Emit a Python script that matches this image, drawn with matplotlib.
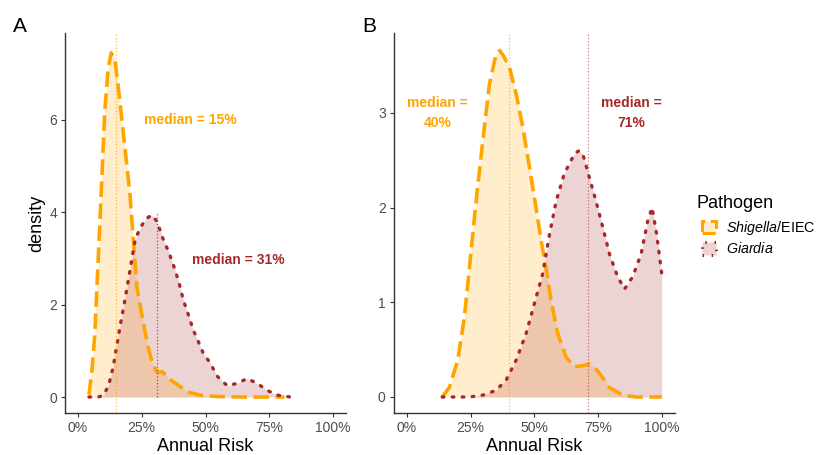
import matplotlib
matplotlib.use("Agg")
import matplotlib.pyplot as plt
from matplotlib.patches import Patch
from matplotlib.ticker import PercentFormatter

plt.rcParams['font.family'] = ['Liberation Sans', 'DejaVu Sans']
plt.rcParams['mathtext.fontset'] = 'custom'
plt.rcParams['mathtext.rm'] = 'Liberation Sans'
plt.rcParams['mathtext.it'] = 'Liberation Sans:italic'

# ---- data (annual risk in %, density) ----
pathogens = ['Shigella/EIEC', 'Giardia']

a_shig_x = [4.3, 5.5, 6.6, 7.9, 9.2, 10.5, 11.8, 13.0, 14.5, 16.4, 18.4, 20.4, 22.0,
            23.1, 24.3, 26.0, 27.5, 29.4, 31.0, 33.3, 35.3, 39.2, 43.0, 47.8, 55, 65, 75, 81]
a_shig_y = [0.05, 0.6, 1.37, 2.96, 4.54, 6.2, 7.1, 7.45, 7.3, 6.42, 5.4, 4.37, 3.18,
            2.38, 2.0, 1.5, 1.08, 0.69, 0.54, 0.54, 0.41, 0.26, 0.11, 0.04, 0.01, 0.0, 0.0, 0.0]

a_giar_x = [4.3, 8, 10, 12, 13.8, 16.4, 18.4, 20.4, 22.4, 24.3, 26.5, 28.9, 31, 33.5,
            35.5, 37.4, 39.5, 41.3, 43.3, 45.2, 47.2, 49.1, 51.8, 54.6, 58.6, 62.5,
            66.4, 70.4, 74.3, 78.3, 83.3]
a_giar_y = [0, 0.0, 0.04, 0.25, 0.65, 1.5, 2.1, 2.75, 3.4, 3.65, 3.85, 3.94, 3.8, 3.4,
            3.15, 2.86, 2.5, 2.1, 1.78, 1.45, 1.2, 0.95, 0.74, 0.45, 0.24, 0.3,
            0.4, 0.29, 0.14, 0.04, 0]

b_shig_x = [13.9, 16.7, 20, 22.6, 24.6, 27.2, 29.8, 32.4, 35, 36.5, 38, 40.3, 42.9,
            45.5, 48.1, 50.7, 52.7, 54.6, 56.6, 59.2, 62.5, 65.8, 69, 71.6, 73.5,
            75.6, 79.5, 84.7, 90, 100]
b_shig_y = [0.0, 0.1, 0.39, 0.84, 1.37, 2.07, 2.7, 3.3, 3.62, 3.66, 3.6, 3.48, 3.2,
            2.85, 2.43, 2.0, 1.65, 1.37, 1.02, 0.67, 0.42, 0.32, 0.33, 0.35, 0.32,
            0.25, 0.1, 0.02, 0.0, 0.0]

b_giar_x = [13.9, 20, 24.6, 29.8, 35, 39, 42.9, 46.8, 50.7, 53.3, 56, 58.6, 61.8,
            65.8, 67.5, 69, 71.6, 74.2, 76.9, 79.5, 82.7, 85.4, 88.6, 91.9, 94.5,
            96.2, 98, 100]
b_giar_y = [0, 0, 0, 0.02, 0.07, 0.18, 0.39, 0.67, 1.05, 1.3, 1.72, 2.07, 2.36,
            2.57, 2.6, 2.57, 2.32, 2.07, 1.79, 1.51, 1.27, 1.14, 1.27, 1.51, 1.86,
            2.0, 1.72, 1.3]

a_medians = [15, 31]
b_medians = [40, 71]

# ---- styles ----
col_line = ['#FFA500', '#A52A2A']
col_key = ['#FFEDCC', '#EDD4D4']
dash = [(0, (4.3, 1.8)), (0, (0.5, 2.5))]
caps = ['butt', 'round']
lws = [2.6, 2.4]

fig = plt.figure(figsize=(8.16, 4.55), dpi=100)
axA = fig.add_axes([65.25 / 816, 42 / 455, 280.5 / 816, 380 / 455])
axB = fig.add_axes([394 / 816, 42 / 455, 280.5 / 816, 380 / 455])


def density(ax, x, y, i):
    ax.fill_between(x, 0, y, color=col_line[i], alpha=0.2, lw=0)
    ax.plot(x, y, color=col_line[i], lw=lws[i], linestyle=dash[i],
            dash_capstyle=caps[i], solid_capstyle=caps[i])


density(axA, a_shig_x, a_shig_y, 0)
density(axA, a_giar_x, a_giar_y, 1)
density(axB, b_shig_x, b_shig_y, 0)
density(axB, b_giar_x, b_giar_y, 1)

# median lines
axA.axvline(a_medians[0], color=col_line[0], lw=0.9, linestyle=':', alpha=0.7)
axA.plot([a_medians[1], a_medians[1]], [0, 4.0], color=col_line[1], lw=0.9,
         linestyle=':', alpha=0.8)
axB.axvline(b_medians[0], color=col_line[0], lw=0.9, linestyle=':', alpha=0.7)
axB.axvline(b_medians[1], color=col_line[1], lw=0.9, linestyle=':', alpha=0.6)

# median labels
axA.text(44, 6.0, 'median = %d%%' % a_medians[0], color=col_line[0], fontsize=10,
         fontweight='bold', ha='center', va='center')
axA.text(63, 2.97, 'median = %d%%' % a_medians[1], color=col_line[1], fontsize=10,
         fontweight='bold', ha='center', va='center')
axB.text(12, 3.0, 'median =\n%d%%' % b_medians[0], color=col_line[0], fontsize=10,
         fontweight='bold', ha='center', va='center', linespacing=1.5)
axB.text(88, 3.0, 'median =\n%d%%' % b_medians[1], color=col_line[1], fontsize=10,
         fontweight='bold', ha='center', va='center', linespacing=1.5)

for ax, ylim, yt in [(axA, (-0.346, 7.88), [0, 2, 4, 6]),
                     (axB, (-0.169, 3.844), [0, 1, 2, 3])]:
    ax.set_xlim(-5, 105)
    ax.set_ylim(*ylim)
    ax.set_xticks([0, 25, 50, 75, 100])
    ax.set_yticks(yt)
    ax.xaxis.set_major_formatter(PercentFormatter(xmax=100, decimals=0))
    ax.spines['top'].set_visible(False)
    ax.spines['right'].set_visible(False)
    for s in ['left', 'bottom']:
        ax.spines[s].set_color('#333333')
        ax.spines[s].set_linewidth(1.0)
    ax.tick_params(length=3, width=0.8, color='#333333', labelcolor='#4D4D4D',
                   labelsize=10, pad=3)
    ax.set_xlabel('Annual Risk', fontsize=13, labelpad=2)

axA.set_ylabel('density', fontsize=13, labelpad=3)

fig.text(13 / 816, 1 - 32 / 455, 'A', fontsize=15)
fig.text(362 / 816, 1 - 32 / 455, 'B', fontsize=15)

# legend
fig.text(697 / 816, 1 - 208 / 455, 'Pathogen', fontsize=13, va='baseline')
handles = [Patch(facecolor=col_key[i], edgecolor=col_line[i],
                 linestyle=dash[i], linewidth=2.2) for i in range(2)]
labels = [r'$\it{Shigella}$/EIEC', r'$\it{Giardia}$']
fig.legend(handles, labels, loc='upper left',
           bbox_to_anchor=(702 / 816, 1 - 219 / 455), frameon=False,
           fontsize=10.3, handlelength=0.95, handleheight=0.95,
           handletextpad=0.75, labelspacing=0.3, borderaxespad=0, borderpad=0)

fig.savefig('out.png', dpi=100)
